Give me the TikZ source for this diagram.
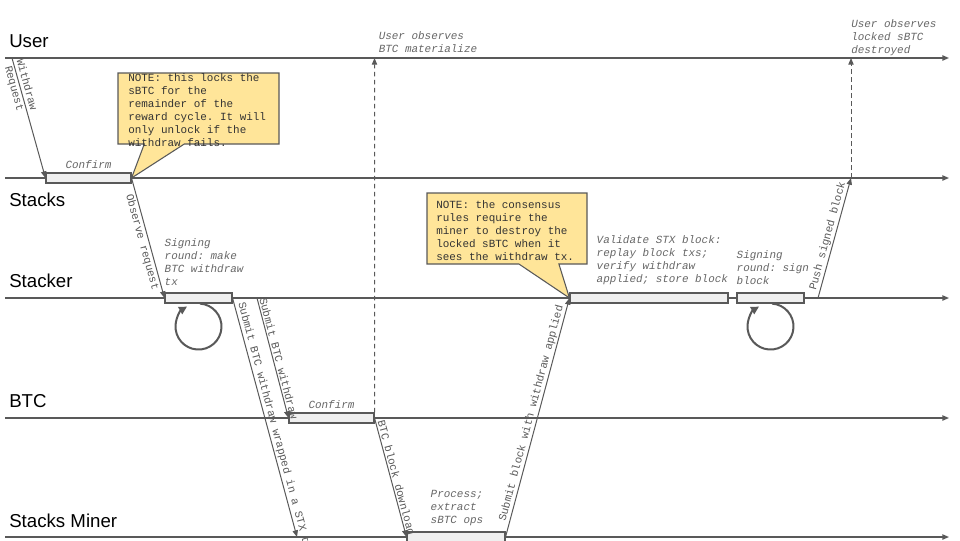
\documentclass[tikz,border=0pt]{standalone}
\usepackage{fontspec}
\setmainfont{Liberation Sans}
\setmonofont{Liberation Mono}
\usetikzlibrary{
  arrows.meta,
  positioning,
  shapes.callouts
}
\definecolor{linegray}{HTML}{595959}
\definecolor{lblgray}{HTML}{666666}
\definecolor{boxfill}{HTML}{EFEFEF}
\definecolor{notefill}{HTML}{FFE599}
\definecolor{notetext}{HTML}{333333}

\begin{document}
\begin{tikzpicture}[
  x=0.75pt, y=-0.75pt,
  >={Triangle[length=5pt,width=4pt]},
  lane/.style={draw=linegray, line width=1pt, ->},
  lanelbl/.style={anchor=base west, inner sep=0pt, font=\fontsize{14}{16}\selectfont},
  actbox/.style={draw=linegray, fill=boxfill, line width=0.8pt, minimum height=7.5pt, inner sep=0pt},
  msg/.style={draw=linegray, line width=0.75pt, ->},
  obs/.style={msg, dash pattern=on 3.5pt off 2.5pt},
  msglbl/.style={sloped, inner sep=1pt, text=linegray, font=\ttfamily\fontsize{8.2}{9.75}\selectfont},
  steplbl/.style={align=left, inner sep=0pt, text=lblgray, font=\ttfamily\itshape\fontsize{8.2}{9.75}\selectfont},
  notebox/.style={rectangle callout, draw=linegray, fill=notefill, line width=0.8pt, callout pointer width=30pt},
  notetxt/.style={anchor=north west, align=left, inner sep=0pt, text=notetext, font=\ttfamily\fontsize{8.2}{9.75}\selectfont},
  selfloop/.style={draw=linegray, line width=1.5pt, -{Triangle[length=6pt,width=6pt]}},
]
\useasboundingbox (0,0) rectangle (960,540);
\clip (0,0) rectangle (960,540);

% ═══════════════════════════════════════════
% LANES
% ═══════════════════════════════════════════
\foreach \lname/\ly in {user/58, stacks/178, stacker/298, btc/418, miner/537} {
  \coordinate (\lname-l) at (5,\ly);
  \coordinate (\lname-r) at (949,\ly);
  \draw[lane] (\lname-l) -- (\lname-r);
}

\node[lanelbl] (userlbl)    at (9,47)  {User};
\node[lanelbl] (stackslbl)  at (9,206) {Stacks};
\node[lanelbl] (stackerlbl) at (9,287) {Stacker};
\node[lanelbl] (btclbl)     at (9,407) {BTC};
\node[lanelbl] (minerlbl)   at (9,527) {Stacks Miner};

% ═══════════════════════════════════════════
% ACTIVATION BOXES
% ═══════════════════════════════════════════
\node[actbox, minimum width=63.75pt]  (stxconfirm) at (88.5,178)  {};
\node[actbox, minimum width=50.25pt]  (signbox)    at (198.5,298) {};
\node[actbox, minimum width=63.75pt]  (btcconfirm) at (331.5,418) {};
\node[actbox, minimum width=73.5pt]   (minerbox)   at (456,537)   {};
\node[actbox, minimum width=118.5pt]  (validbox)   at (649,298)   {};
\node[actbox, minimum width=50.25pt]  (signblkbox) at (770.5,298) {};

% Step labels
\node[steplbl, above=3pt of stxconfirm] (stxconfirmlbl) {Confirm};
\node[steplbl, above=3pt of btcconfirm] (btcconfirmlbl) {Confirm};
\node[steplbl, above right=4.9pt and 0pt of signbox.north west] (signlbl) {
  Signing\\round: make\\BTC withdraw\\tx};
\node[steplbl, above right=5.5pt and 20.25pt of validbox.north west] (validlbl) {
  Validate STX block:\\replay block txs;\\verify withdraw\\applied; store block};
\node[steplbl, above right=5.6pt and 0pt of signblkbox.north west] (signblklbl) {
  Signing\\round: sign\\block};
\node[steplbl, above right=4pt and 18pt of minerbox.north west] (minerlbl) {
  Process;\\extract\\sBTC ops};

% Self loops under signing rounds
\coordinate[below=17.25pt of signbox.south] (signloop);
\coordinate[below=17.25pt of signblkbox.south] (signblkloop);
\draw[selfloop] ([shift={(86:17.25pt)}]signloop) arc[start angle=86, end angle=-240, radius=17.25pt];
\draw[selfloop] ([shift={(86:17.25pt)}]signblkloop) arc[start angle=86, end angle=-240, radius=17.25pt];

% ═══════════════════════════════════════════
% MESSAGES
% ═══════════════════════════════════════════
\coordinate (wdstart)   at (12,58);
\coordinate (subbtc)    at (257,298);
\coordinate (wrapend)   at (297,537);
\coordinate (pushstart) at (818,298);
\coordinate (pushend)   at (851,178);
\coordinate (btcseen)   at (374.5,58);
\coordinate (burnseen)  at (851,58);

\draw[msg] (wdstart) -- (stxconfirm.west)
  node[msglbl, pos=0.24, align=center] {Withdraw\\Request};
\draw[msg] (stxconfirm.east) -- (signbox.west)
  node[msglbl, pos=0.52, below=0pt] {Observe request};
\draw[msg] (signbox.east) -- (wrapend)
  node[msglbl, pos=0.02, anchor=south west] {Submit BTC withdraw wrapped in a STX tx};
\draw[msg] (subbtc) -- (btcconfirm.west)
  node[msglbl, pos=0, anchor=south west] {Submit BTC withdraw};
\draw[msg] (btcconfirm.east) -- (minerbox.west)
  node[msglbl, pos=0.02, anchor=south west] {BTC block download};
\draw[msg] (minerbox.east) -- (validbox.west)
  node[msglbl, pos=0.51, above=0pt] {Submit block with withdraw applied};
\draw[msg] (pushstart) -- (pushend)
  node[msglbl, pos=0.5, above=0pt] {Push signed block};

% Observations back at the user
\draw[obs] (btcconfirm.north east) -- (btcseen);
\draw[obs] (pushend) -- (burnseen);
\node[steplbl, above right=3.75pt and 3pt of btcseen] (btcseenlbl) {
  User observes\\BTC materialize};
\node[steplbl, above right=1.7pt and 0pt of burnseen] (burnseenlbl) {
  User observes\\locked sBTC\\destroyed};

% ═══════════════════════════════════════════
% NOTES
% ═══════════════════════════════════════════
\node[notebox, minimum width=120.75pt, minimum height=53.25pt,
  callout absolute pointer={(stxconfirm.east)}] (locknote) at (198.5,108.5) {};
\node[notetxt] (locktxt) at (128,73) {
  NOTE: this locks the\\sBTC for the\\remainder of the\\reward cycle. It will\\only unlock if the\\withdraw fails.};

\node[notebox, minimum width=120pt, minimum height=53.25pt,
  callout absolute pointer={(validbox.west)}] (burnnote) at (507,228.5) {};
\node[notetxt] (burntxt) at (436,200) {
  NOTE: the consensus\\rules require the\\miner to destroy the\\locked sBTC when it\\sees the withdraw tx.};

\end{tikzpicture}
\end{document}
